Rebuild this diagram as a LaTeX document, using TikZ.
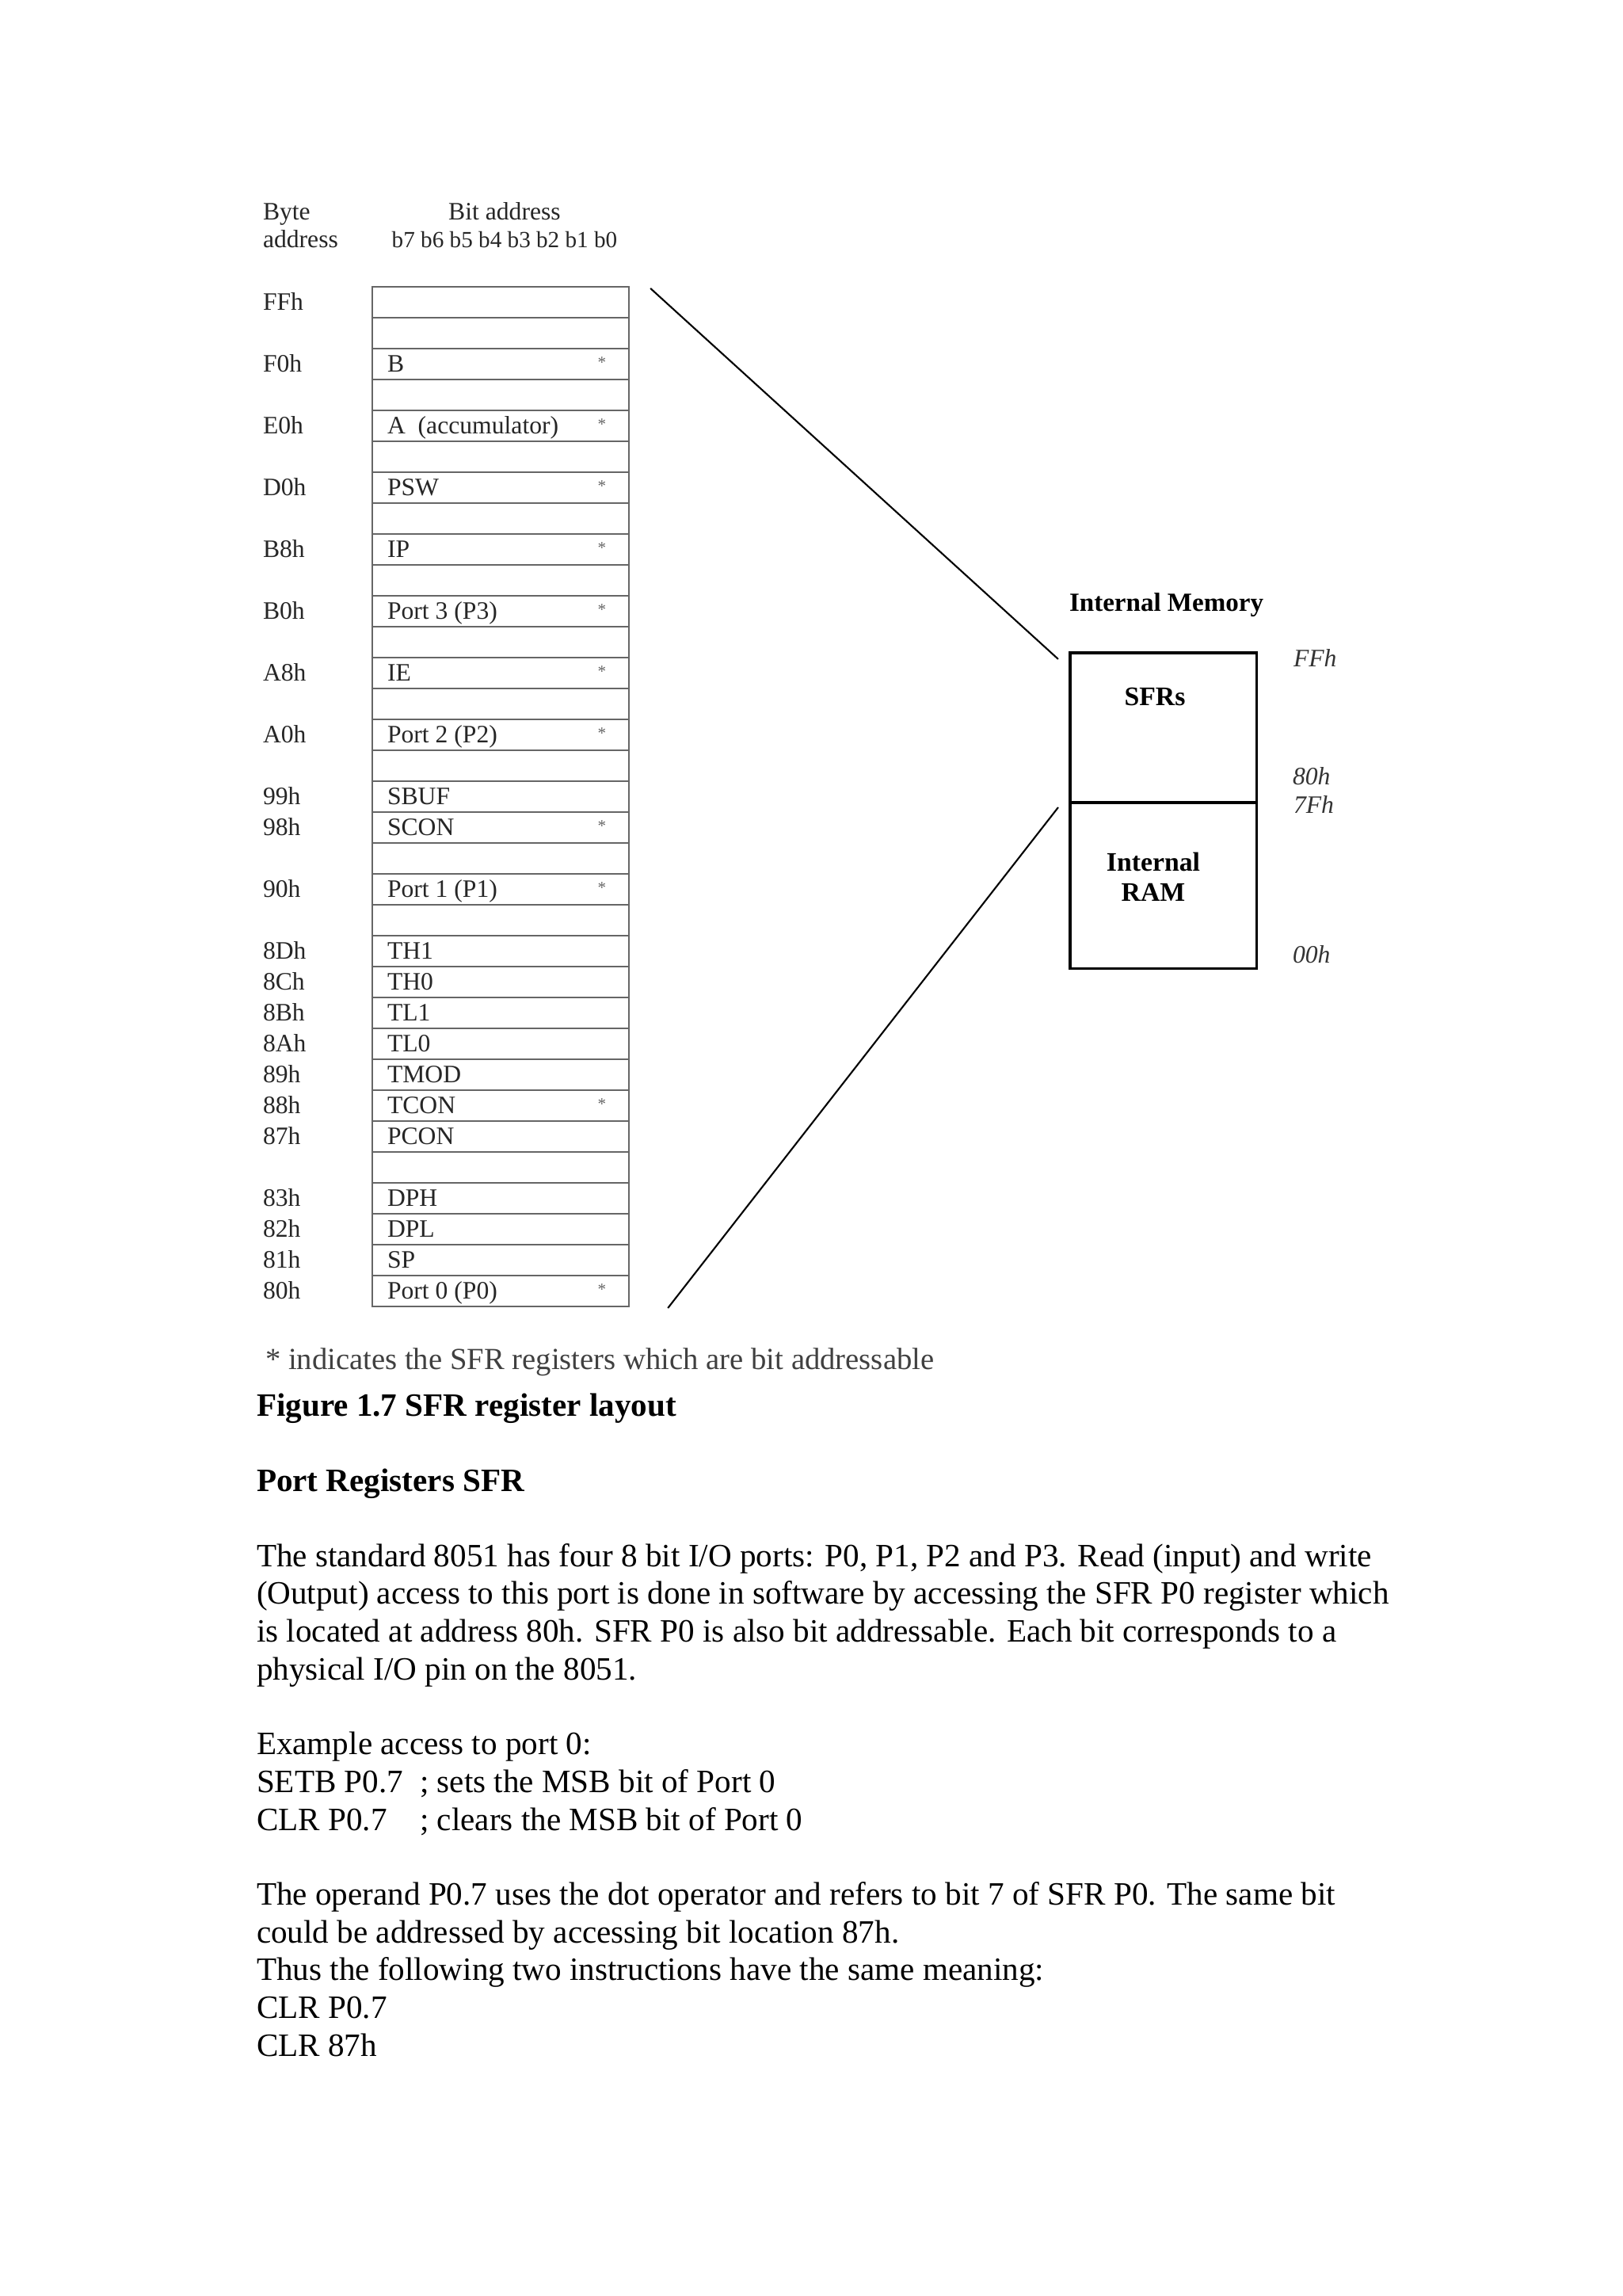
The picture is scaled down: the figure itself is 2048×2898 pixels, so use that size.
\documentclass[tikz,border=0pt]{standalone}
\usepackage{fontspec}
\setmainfont{Liberation Serif}
\usepackage{tikz}
\usetikzlibrary{positioning, calc}

\newcommand{\bitstar}{\raisebox{1.5pt}{\fontsize{6}{6}\selectfont\color{black!60}*}\hspace{0.1cm}}
\newcommand{\sfrcell}[2]{\hbox to 2.86cm{#1\hfill#2}}

\begin{document}
\begin{tikzpicture}[
  x=0.01cm, y=-0.01cm,
  every node/.style={inner sep=0pt, outer sep=0pt},
  tabtxt/.style={font=\fontsize{9}{10}\selectfont, text=black!85, text height=7.5pt, text depth=1.8pt},
  reg/.style={tabtxt, rectangle, draw=black!60, line width=0.7pt, minimum width=3.24cm, minimum height=0.39cm, anchor=west},
  addr/.style={tabtxt, anchor=west},
  hdr/.style={font=\fontsize{9}{10}\selectfont, text=black!85},
  membox/.style={rectangle, draw=black, line width=0.9pt, minimum width=2.35cm},
  memtxt/.style={font=\fontsize{9.6}{10.8}\selectfont\bfseries, align=center, anchor=base},
  memaddr/.style={font=\fontsize{9}{10}\selectfont\itshape, text=black!80, anchor=base west},
  zoomline/.style={line width=0.6pt},
  note/.style={font=\fontsize{11}{12}\selectfont, text=black!75, anchor=base west},
  body/.style={font=\fontsize{11.7}{13.55}\selectfont, align=left, anchor=base west},
  head/.style={body, font=\fontsize{11.7}{13.55}\selectfont\bfseries},
]
  \useasboundingbox (0,0) rectangle (2048,2898);

  % column headings (base = last line)
  \node[hdr, align=left, anchor=base west] (byte) at (332,313) {Byte\\address};
  \node[hdr, align=center, anchor=base] (bits) at (637,313) {Bit address\\{\fontsize{8.3}{10}\selectfont b7 b6 b5 b4 b3 b2 b1 b0}};

  % SFR table, one row per byte
  \node[reg] (r1) at (470,381.5) {};
  \node[reg] (r2) at (470,420.5) {};
  \node[reg] (r3) at (470,459.5) {\sfrcell{B}{\bitstar}};
  \node[reg] (r4) at (470,498.5) {};
  \node[reg] (r5) at (470,537.5) {\sfrcell{A~~(accumulator)}{\bitstar}};
  \node[reg] (r6) at (470,576.5) {};
  \node[reg] (r7) at (470,615.5) {\sfrcell{PSW}{\bitstar}};
  \node[reg] (r8) at (470,654.5) {};
  \node[reg] (r9) at (470,693.5) {\sfrcell{IP}{\bitstar}};
  \node[reg] (r10) at (470,732.5) {};
  \node[reg] (r11) at (470,771.5) {\sfrcell{Port 3 (P3)}{\bitstar}};
  \node[reg] (r12) at (470,810.5) {};
  \node[reg] (r13) at (470,849.5) {\sfrcell{IE}{\bitstar}};
  \node[reg] (r14) at (470,888.5) {};
  \node[reg] (r15) at (470,927.5) {\sfrcell{Port 2 (P2)}{\bitstar}};
  \node[reg] (r16) at (470,966.5) {};
  \node[reg] (r17) at (470,1005.5) {\sfrcell{SBUF}{}};
  \node[reg] (r18) at (470,1044.5) {\sfrcell{SCON}{\bitstar}};
  \node[reg] (r19) at (470,1083.5) {};
  \node[reg] (r20) at (470,1122.5) {\sfrcell{Port 1 (P1)}{\bitstar}};
  \node[reg] (r21) at (470,1161.5) {};
  \node[reg] (r22) at (470,1200.5) {\sfrcell{TH1}{}};
  \node[reg] (r23) at (470,1239.5) {\sfrcell{TH0}{}};
  \node[reg] (r24) at (470,1278.5) {\sfrcell{TL1}{}};
  \node[reg] (r25) at (470,1317.5) {\sfrcell{TL0}{}};
  \node[reg] (r26) at (470,1356.5) {\sfrcell{TMOD}{}};
  \node[reg] (r27) at (470,1395.5) {\sfrcell{TCON}{\bitstar}};
  \node[reg] (r28) at (470,1434.5) {\sfrcell{PCON}{}};
  \node[reg] (r29) at (470,1473.5) {};
  \node[reg] (r30) at (470,1512.5) {\sfrcell{DPH}{}};
  \node[reg] (r31) at (470,1551.5) {\sfrcell{DPL}{}};
  \node[reg] (r32) at (470,1590.5) {\sfrcell{SP}{}};
  \node[reg] (r33) at (470,1629.5) {\sfrcell{Port 0 (P0)}{\bitstar}};

  % byte addresses
  \node[addr] (aFF) at (332,381.5) {FFh};
  \node[addr] (aF0) at (332,459.5) {F0h};
  \node[addr] (aE0) at (332,537.5) {E0h};
  \node[addr] (aD0) at (332,615.5) {D0h};
  \node[addr] (aB8) at (332,693.5) {B8h};
  \node[addr] (aB0) at (332,771.5) {B0h};
  \node[addr] (aA8) at (332,849.5) {A8h};
  \node[addr] (aA0) at (332,927.5) {A0h};
  \node[addr] (a99) at (332,1005.5) {99h};
  \node[addr] (a98) at (332,1044.5) {98h};
  \node[addr] (a90) at (332,1122.5) {90h};
  \node[addr] (a8D) at (332,1200.5) {8Dh};
  \node[addr] (a8C) at (332,1239.5) {8Ch};
  \node[addr] (a8B) at (332,1278.5) {8Bh};
  \node[addr] (a8A) at (332,1317.5) {8Ah};
  \node[addr] (a89) at (332,1356.5) {89h};
  \node[addr] (a88) at (332,1395.5) {88h};
  \node[addr] (a87) at (332,1434.5) {87h};
  \node[addr] (a83) at (332,1512.5) {83h};
  \node[addr] (a82) at (332,1551.5) {82h};
  \node[addr] (a81) at (332,1590.5) {81h};
  \node[addr] (a80) at (332,1629.5) {80h};

  % internal memory
  \node[font=\fontsize{9.4}{10}\selectfont\bfseries, anchor=base west] (imem) at (1350,772) {Internal Memory};
  \node[membox, minimum height=1.89cm] (sfr) at (1468.5,918.5) {};
  \node[membox, minimum height=2.09cm, below=0pt of sfr] (ram) {};
  \node[memtxt] (sfrtxt) at (1458,890) {SFRs};
  \node[memtxt] (ramtxt) at (1456,1137) {Internal\\RAM};
  \node[memaddr] (mFF) at (1633,842) {FFh};
  \node[memaddr] (m80) at (1632,991) {80h};
  \node[memaddr] (m7F) at (1633,1026) {7Fh};
  \node[memaddr] (m00) at (1632,1215) {00h};

  \draw[zoomline] ($(r1.north east)+(27,2)$) -- ($(sfr.north west)+(-15,8)$);
  \draw[zoomline] ($(r33.south east)+(49,2)$) -- ($(ram.north west)+(-15,6)$);

  \node[note] (star) at (335,1728) {* indicates the SFR registers which are bit addressable};

  % caption and text below (base = last line of each block)
  \node[head] (cap) at (324,1787) {Figure 1.7 SFR register layout};
  \node[head] (title) at (324,1882) {Port Registers SFR};
  \node[body] (p1) at (324,2120) {The standard 8051 has four 8 bit I/O ports: P0, P1, P2 and P3. Read (input) and write\\(Output) access to this port is done in software by accessing the SFR P0 register which\\is located at address 80h. SFR P0 is also bit addressable. Each bit corresponds to a\\physical I/O pin on the 8051.};
  \node[body] (p2) at (324,2310) {Example access to port 0:\\\makebox[2.06cm][l]{SETB P0.7}; sets the MSB bit of Port 0\\\makebox[2.06cm][l]{CLR P0.7}; clears the MSB bit of Port 0};
  \node[body] (p3) at (324,2595) {The operand P0.7 uses the dot operator and refers to bit 7 of SFR P0. The same bit\\could be addressed by accessing bit location 87h.\\Thus the following two instructions have the same meaning:\\CLR P0.7\\CLR 87h};
\end{tikzpicture}
\end{document}
